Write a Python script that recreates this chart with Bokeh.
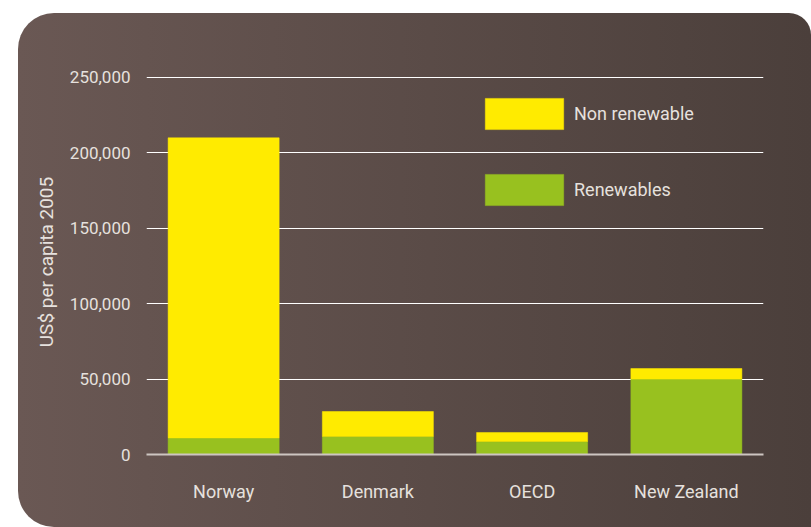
from bokeh.plotting import figure
from bokeh.models import Legend, LegendItem, NumeralTickFormatter, FixedTicker, ColumnDataSource
from bokeh.embed import file_html
from bokeh.resources import INLINE

categories = ["Norway", "Denmark", "OECD", "New Zealand"]
renewables = [11000, 12000, 8600, 50000]
non_renewable = [199000, 16500, 6000, 7000]
y_ticks = [0, 50000, 100000, 150000, 200000, 250000]
series = ["Renewables", "Non renewable"]
colors = ["#98c11f", "#ffeb00"]

source = ColumnDataSource(data={"cat": categories, "Renewables": renewables, "Non renewable": non_renewable})

FONT = "Roboto"
TXT = "#e6e1de"

p = figure(x_range=categories, y_range=(0, 255300), width=793, height=514,
           output_backend="svg", toolbar_location=None,
           min_border_left=128, min_border_right=48, min_border_top=56, min_border_bottom=73,
           margin=(13, 0, 0, 18),
           styles={"background": "linear-gradient(to right, #6a5854, #4b3f3b)",
                   "border-radius": "36px 22px 0 36px"})
p.background_fill_alpha = 0
p.border_fill_alpha = 0
p.outline_line_color = None

rs = p.vbar_stack(series, x="cat", width=0.72, color=colors, line_color=colors, line_width=0.5, source=source)

p.xgrid.grid_line_color = None
p.ygrid.grid_line_color = "white"
p.ygrid.grid_line_width = 1.2
p.ygrid.ticker = FixedTicker(ticks=y_ticks)

p.yaxis.ticker = FixedTicker(ticks=y_ticks)
p.yaxis.formatter = NumeralTickFormatter(format="0,0")
p.yaxis.axis_line_color = None
p.yaxis.major_tick_line_color = None
p.yaxis.minor_tick_line_color = None
p.yaxis.major_label_standoff = 10
p.yaxis.major_label_text_font = FONT
p.yaxis.major_label_text_font_size = "17px"
p.yaxis.major_label_text_color = TXT
p.yaxis.axis_label = "US$ per capita 2005"
p.yaxis.axis_label_text_font = FONT
p.yaxis.axis_label_text_font_size = "19px"
p.yaxis.axis_label_text_font_style = "normal"
p.yaxis.axis_label_text_color = TXT
p.yaxis.axis_label_standoff = 9

p.xaxis.axis_line_color = "#cdc5c1"
p.xaxis.axis_line_width = 2
p.xaxis.major_tick_line_color = None
p.xaxis.minor_tick_line_color = None
p.xaxis.major_label_standoff = 20
p.xaxis.major_label_text_font = FONT
p.xaxis.major_label_text_font_size = "18px"
p.xaxis.major_label_text_color = TXT

legend = Legend(items=[LegendItem(label="Non renewable", renderers=[rs[1]]),
                       LegendItem(label="Renewables", renderers=[rs[0]])],
                location=(329, 245), glyph_width=98, glyph_height=39, spacing=37,
                padding=0, margin=0, border_line_alpha=0, background_fill_alpha=0,
                label_standoff=1, label_text_color=TXT, label_text_font=FONT,
                label_text_font_size="18px")
p.add_layout(legend)

open("out.html", "w").write(file_html(p, INLINE))
